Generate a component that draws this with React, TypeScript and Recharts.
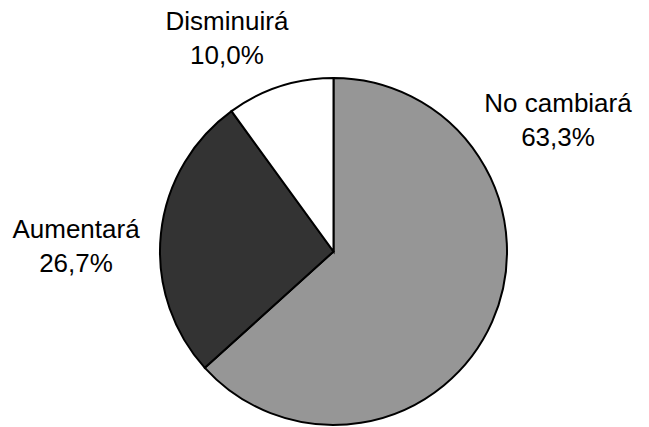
import React from 'react';
import { PieChart, Pie, Cell } from 'recharts';

const categories = ['No cambiará', 'Aumentará', 'Disminuirá'];
const shares = [63.3, 26.7, 10.0];
const sliceColors = ['#969696', '#333333', '#ffffff'];

const data = categories.map((name, i) => ({ name, value: shares[i] }));

// label anchors, as fractions of the radius from the centre (first line baseline)
const labelOffsets: Record<string, { x: number; y: number }> = {
  'No cambiará': { x: 1.294, y: -0.804 },
  'Aumentará': { x: -1.484, y: -0.078 },
  'Disminuirá': { x: -0.614, y: -1.277 },
};

const formatPct = (v: number) => `${v.toFixed(1).replace('.', ',')}%`;

const renderLabel = (props: any) => {
  const { cx, cy, outerRadius, name, value } = props;
  const off = labelOffsets[name];
  if (!off) return null;
  const x = cx + off.x * outerRadius;
  const y = cy + off.y * outerRadius;
  return (
    <text x={x} y={y} textAnchor="middle" fill="#000" fontSize={26} fontFamily="'Liberation Sans', Arial, sans-serif">
      <tspan x={x} y={y}>{name}</tspan>
      <tspan x={x} y={y + 34}>{formatPct(value)}</tspan>
    </text>
  );
};

const App: React.FC = () => {
  return (
    <div style={{ position: 'absolute', left: 0, top: 0, width: 649, height: 427, background: '#fff' }}>
      <PieChart width={649} height={427} margin={{ top: 0, right: 0, bottom: 0, left: 0 }}>
        <Pie
          data={data}
          dataKey="value"
          nameKey="name"
          cx={333.5}
          cy={251.5}
          outerRadius={173.5}
          startAngle={90}
          endAngle={-270}
          stroke="#000"
          strokeWidth={2}
          label={renderLabel}
          labelLine={false}
          isAnimationActive={false}
        >
          {data.map((d, i) => (
            <Cell key={d.name} fill={sliceColors[i]} />
          ))}
        </Pie>
      </PieChart>
    </div>
  );
};

export default App;
